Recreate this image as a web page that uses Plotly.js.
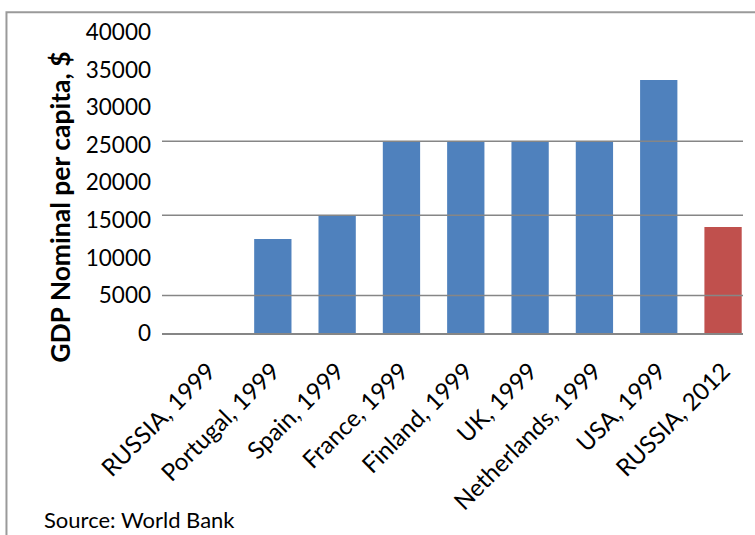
<!DOCTYPE html>
<html>
<head>
<meta charset="utf-8">
<script src="https://cdn.plot.ly/plotly-3.0.1.min.js"></script>
<style>
  html, body { margin: 0; padding: 0; background: #ffffff; }
  #chart { width: 755px; height: 535px; }
</style>
</head>
<body>
<div id="chart"></div>
<script>
// GDP nominal per capita (US$), World Bank
const categories = [
  'RUSSIA, 1999', 'Portugal, 1999', 'Spain, 1999', 'France, 1999',
  'Finland, 1999', 'UK, 1999', 'Netherlands, 1999', 'USA, 1999', 'RUSSIA, 2012'
];
const gdpPerCapita = [0, 12500, 15650, 25480, 25480, 25480, 25480, 33620, 14090];
// reference levels drawn across the plot
const guideLevels = [5000, 15650, 25480];
const yTickValues = [0, 5000, 10000, 15000, 20000, 25000, 30000, 35000, 40000];

const blue = '#4F81BD';
const red = '#C0504D';
const barColors = categories.map((c, i) => i === categories.length - 1 ? red : blue);

const trace = {
  type: 'bar',
  x: categories,
  y: gdpPerCapita,
  marker: { color: barColors, line: { width: 0 } },
  hoverinfo: 'x+y'
};

const font = 'Lato, "Open Sans", sans-serif';

const shapes = guideLevels.map(v => ({
  type: 'line', xref: 'paper', yref: 'y',
  x0: 0, x1: 1, y0: v, y1: v,
  line: { color: '#868686', width: 1.5 },
  layer: 'above'
}));
// outer chart frame
shapes.push({
  type: 'rect', xref: 'paper', yref: 'paper', layer: 'below',
  x0: -0.2677, x1: 1.05, y0: 1.066, y1: -1,
  line: { color: '#9a9a9a', width: 2 }
});

const layout = {
  width: 755, height: 535,
  margin: { l: 162, r: 12, t: 32, b: 202 },
  paper_bgcolor: '#ffffff', plot_bgcolor: '#ffffff',
  showlegend: false,
  bargap: 0.42,
  font: { family: font, color: '#000000' },
  xaxis: {
    type: 'category',
    range: [-0.723, 8.31],
    tickangle: -45,
    tickfont: { family: font, size: 24, color: '#000000' },
    showgrid: false,
    showline: true, linecolor: '#868686', linewidth: 1.5,
    ticks: '', ticklabelstandoff: 13,
    fixedrange: true
  },
  yaxis: {
    range: [0, 40000],
    tickvals: yTickValues,
    ticktext: yTickValues.map(String),
    tickfont: { family: font, size: 22.5, color: '#000000' },
    showgrid: false, zeroline: false, showline: false,
    ticks: '', ticklabelstandoff: 10,
    fixedrange: true
  },
  shapes: shapes,
  annotations: [
    {
      text: '<b>GDP Nominal per capita, $</b>',
      xref: 'paper', yref: 'paper',
      x: -0.1756, y: 0.419, xanchor: 'center', yanchor: 'middle',
      textangle: -90, showarrow: false,
      font: { family: font, size: 26.5, color: '#000000' }
    },
    {
      text: 'Source: World Bank',
      xref: 'paper', yref: 'paper',
      x: -0.2065, y: -0.621, xanchor: 'left', yanchor: 'middle',
      showarrow: false,
      font: { family: font, size: 22, color: '#000000' }
    }
  ]
};

Plotly.newPlot('chart', [trace], layout, { displayModeBar: false, staticPlot: true });
</script>
</body>
</html>
